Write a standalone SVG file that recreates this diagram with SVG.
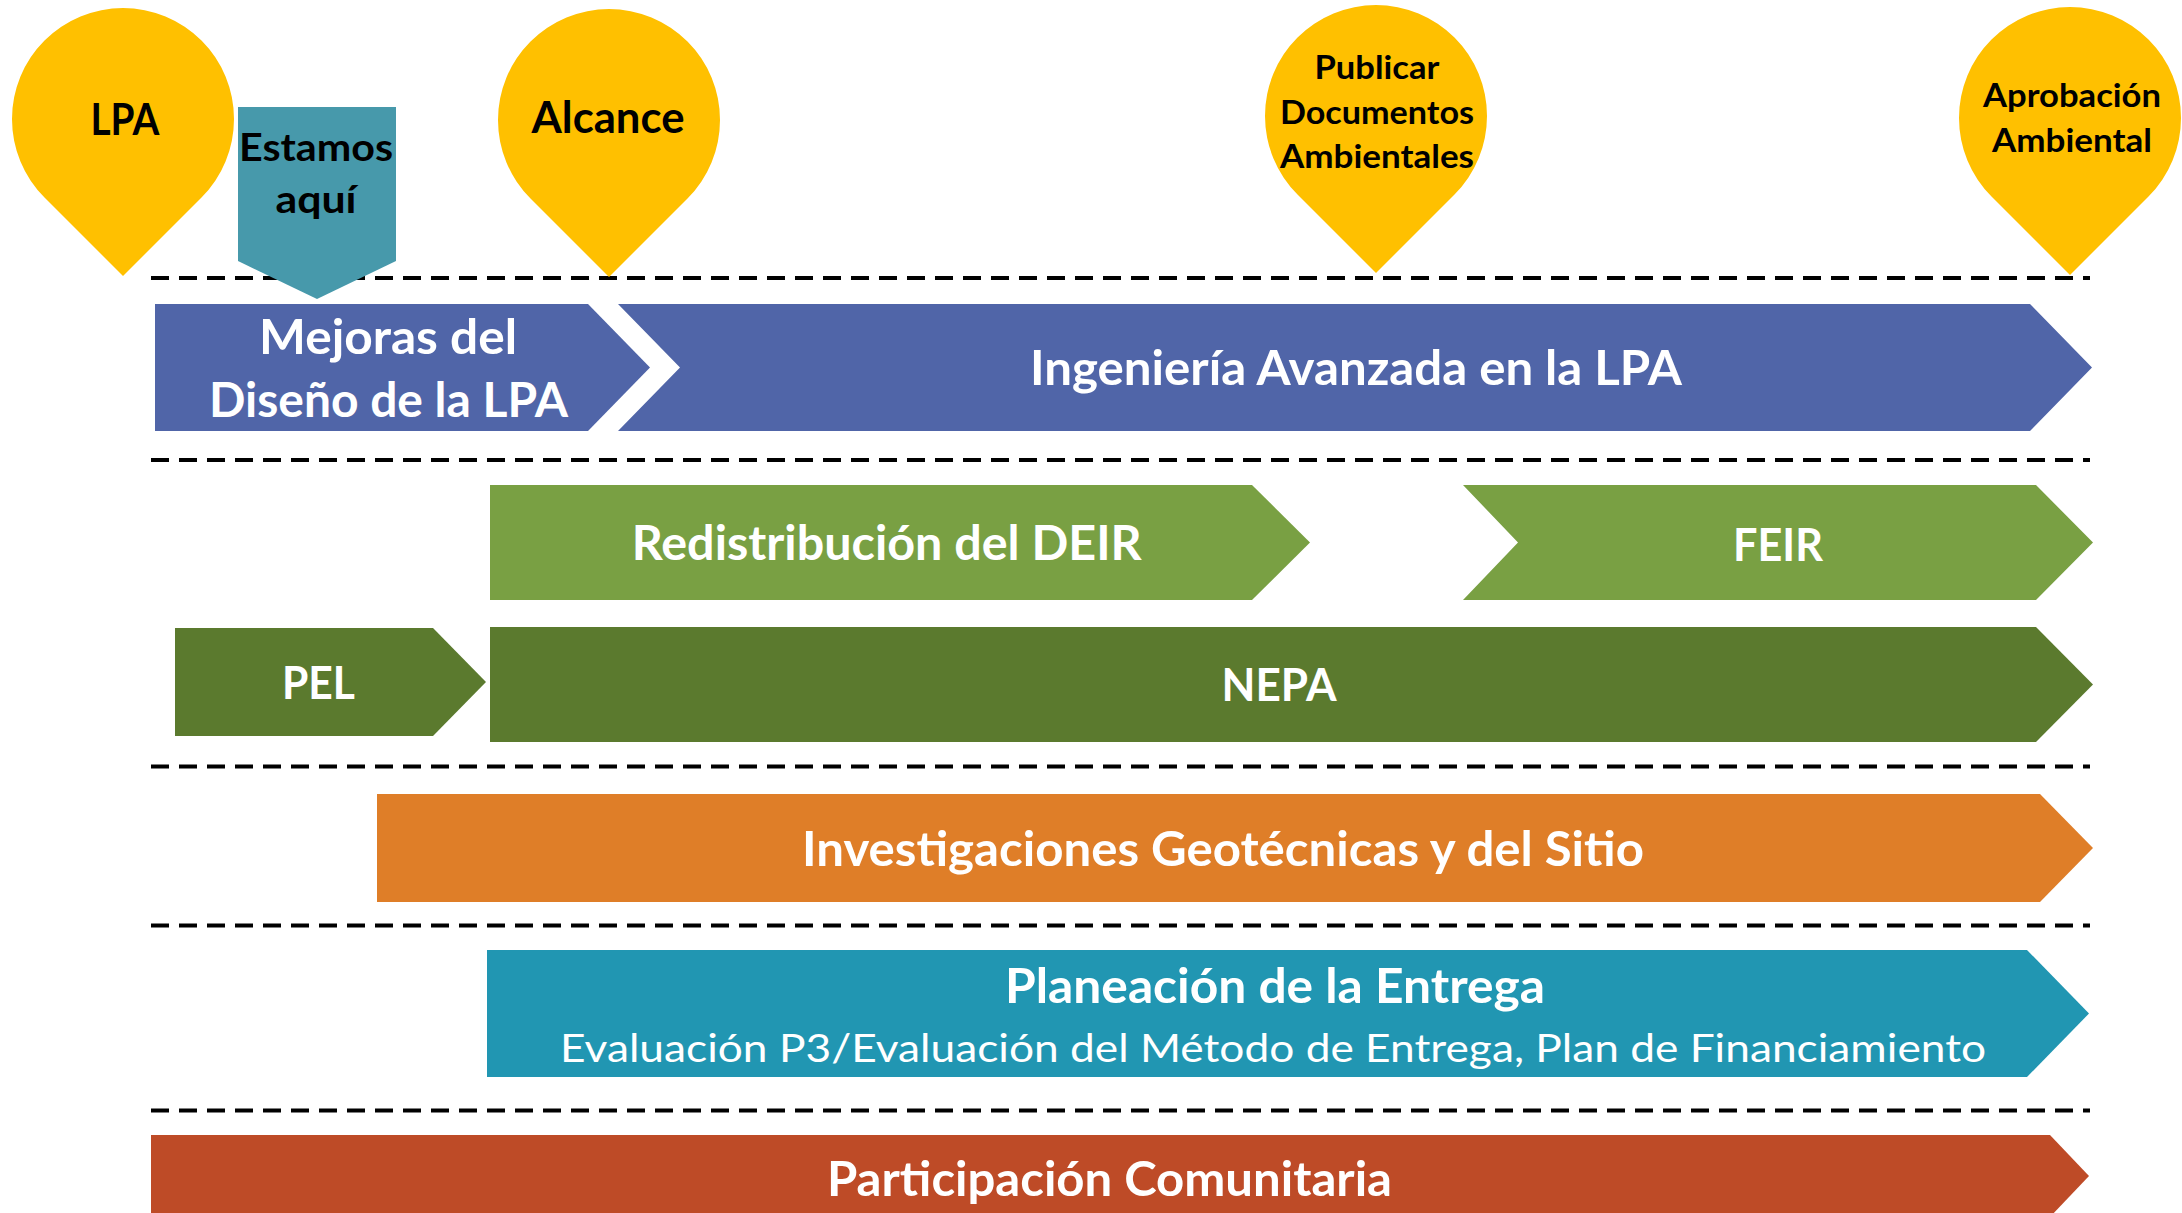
<svg xmlns="http://www.w3.org/2000/svg" xmlns:xlink="http://www.w3.org/1999/xlink" width="2182" height="1213" viewBox="0 0 2182 1213">
<style>
  .sep { stroke:#000; stroke-width:4; stroke-dasharray:18 10; fill:none; }
  .pin { fill:#FFC000; }
  .pt { font-family:Lato,"Open Sans","Liberation Sans",sans-serif; font-weight:700; fill:#000; text-anchor:middle; }
  .bt { font-family:Lato,"Open Sans","Liberation Sans",sans-serif; font-weight:700; fill:#fff; text-anchor:middle; font-size:47.5px; }
  .bts { font-size:45.5px; }
  .sub { font-family:Lato,"Open Sans","Liberation Sans",sans-serif; font-weight:400; fill:#fff; text-anchor:middle; font-size:38.3px; }
  .blue { fill:#5065A8; }
  .lgreen { fill:#79A043; }
  .dgreen { fill:#5B7A2E; }
  .orange { fill:#DF7E28; }
  .teal { fill:#2196B2; }
  .rust { fill:#BE4B27; }
</style>
<defs>
  <path id="pinShape" d="M0,157 L-78.5,78.5 A111,111 0 1 1 78.5,78.5 Z"/>
</defs>
<rect width="2182" height="1213" fill="#fff"/>

<g id="separators">
  <line class="sep" x1="151" y1="278" x2="2090" y2="278"/>
  <line class="sep" x1="151" y1="460" x2="2090" y2="460"/>
  <line class="sep" x1="151" y1="766.5" x2="2090" y2="766.5"/>
  <line class="sep" x1="151" y1="925.5" x2="2090" y2="925.5"/>
  <line class="sep" x1="151" y1="1110.5" x2="2090" y2="1110.5"/>
</g>

<g id="pin-lpa">
  <use xlink:href="#pinShape" href="#pinShape" class="pin" transform="translate(123,119)"/>
  <text class="pt" x="125" y="135" font-size="43" textLength="69" lengthAdjust="spacingAndGlyphs">LPA</text>
</g>
<g id="pin-alcance">
  <use xlink:href="#pinShape" href="#pinShape" class="pin" transform="translate(609,120)"/>
  <text class="pt" x="608" y="133" font-size="43" textLength="153" lengthAdjust="spacingAndGlyphs">Alcance</text>
</g>
<g id="pin-publicar">
  <use xlink:href="#pinShape" href="#pinShape" class="pin" transform="translate(1376,116)"/>
  <text class="pt" x="1377" y="79" font-size="33" textLength="125" lengthAdjust="spacingAndGlyphs">Publicar</text>
  <text class="pt" x="1377" y="124" font-size="33" textLength="194" lengthAdjust="spacingAndGlyphs">Documentos</text>
  <text class="pt" x="1377" y="168" font-size="33" textLength="194" lengthAdjust="spacingAndGlyphs">Ambientales</text>
</g>
<g id="pin-aprobacion">
  <use xlink:href="#pinShape" href="#pinShape" class="pin" transform="translate(2070,118)"/>
  <text class="pt" x="2072" y="107" font-size="33" textLength="178" lengthAdjust="spacingAndGlyphs">Aprobación</text>
  <text class="pt" x="2072" y="151.5" font-size="33" textLength="160" lengthAdjust="spacingAndGlyphs">Ambiental</text>
</g>

<g id="bar-mejoras">
  <polygon class="blue" points="155,304 588,304 650,367.5 588,431 155,431"/>
  <text class="bt" x="388" y="354" textLength="258" lengthAdjust="spacingAndGlyphs">Mejoras del</text>
  <text class="bt" x="388.5" y="417" textLength="359" lengthAdjust="spacingAndGlyphs">Diseño de la LPA</text>
</g>
<g id="marker-estamos">
  <polygon fill="#4799AB" points="238,107 396,107 396,261 317,299 238,261"/>
  <text class="pt" x="316" y="161" font-size="38.6" textLength="154" lengthAdjust="spacingAndGlyphs">Estamos</text>
  <text class="pt" x="316" y="213" font-size="38.6" textLength="81" lengthAdjust="spacingAndGlyphs">aquí</text>
</g>
<g id="bar-ingenieria">
  <polygon class="blue" points="618,304 2030,304 2092,367.5 2030,431 618,431 680,367.5"/>
  <text class="bt" x="1356" y="385" textLength="652" lengthAdjust="spacingAndGlyphs">Ingeniería Avanzada en la LPA</text>
</g>

<g id="bar-redistribucion">
  <polygon class="lgreen" points="490,485 1252,485 1310,542.5 1252,600 490,600"/>
  <text class="bt" x="886.7" y="560" textLength="510" lengthAdjust="spacingAndGlyphs">Redistribución del DEIR</text>
</g>
<g id="bar-feir">
  <polygon class="lgreen" points="1463,485 2036,485 2093,542.5 2036,600 1463,600 1518,542.5"/>
  <text class="bt bts" x="1778" y="561" textLength="90" lengthAdjust="spacingAndGlyphs">FEIR</text>
</g>
<g id="bar-pel">
  <polygon class="dgreen" points="175,628 433,628 486,682 433,736 175,736"/>
  <text class="bt bts" x="318.5" y="699" textLength="73" lengthAdjust="spacingAndGlyphs">PEL</text>
</g>
<g id="bar-nepa">
  <polygon class="dgreen" points="490,627 2036,627 2093,684.5 2036,742 490,742"/>
  <text class="bt bts" x="1279" y="701" textLength="115" lengthAdjust="spacingAndGlyphs">NEPA</text>
</g>

<g id="bar-investigaciones">
  <polygon class="orange" points="377,794 2040,794 2093,848 2040,902 377,902"/>
  <text class="bt" x="1223" y="865.5" textLength="842" lengthAdjust="spacingAndGlyphs">Investigaciones Geotécnicas y del Sitio</text>
</g>

<g id="bar-planeacion">
  <polygon class="teal" points="487,950 2027,950 2089,1013.5 2027,1077 487,1077"/>
  <text class="bt" x="1275" y="1002.5" textLength="540" lengthAdjust="spacingAndGlyphs">Planeación de la Entrega</text>
  <text class="sub" x="1273" y="1061.7" textLength="1426" lengthAdjust="spacingAndGlyphs">Evaluación P3/Evaluación del Método de Entrega, Plan de Financiamiento</text>
</g>

<g id="bar-participacion">
  <polygon class="rust" points="151,1135 2050,1135 2089,1176 2050,1217 151,1217"/>
  <text class="bt" x="1109.5" y="1196" textLength="565" lengthAdjust="spacingAndGlyphs">Participación Comunitaria</text>
</g>
</svg>
